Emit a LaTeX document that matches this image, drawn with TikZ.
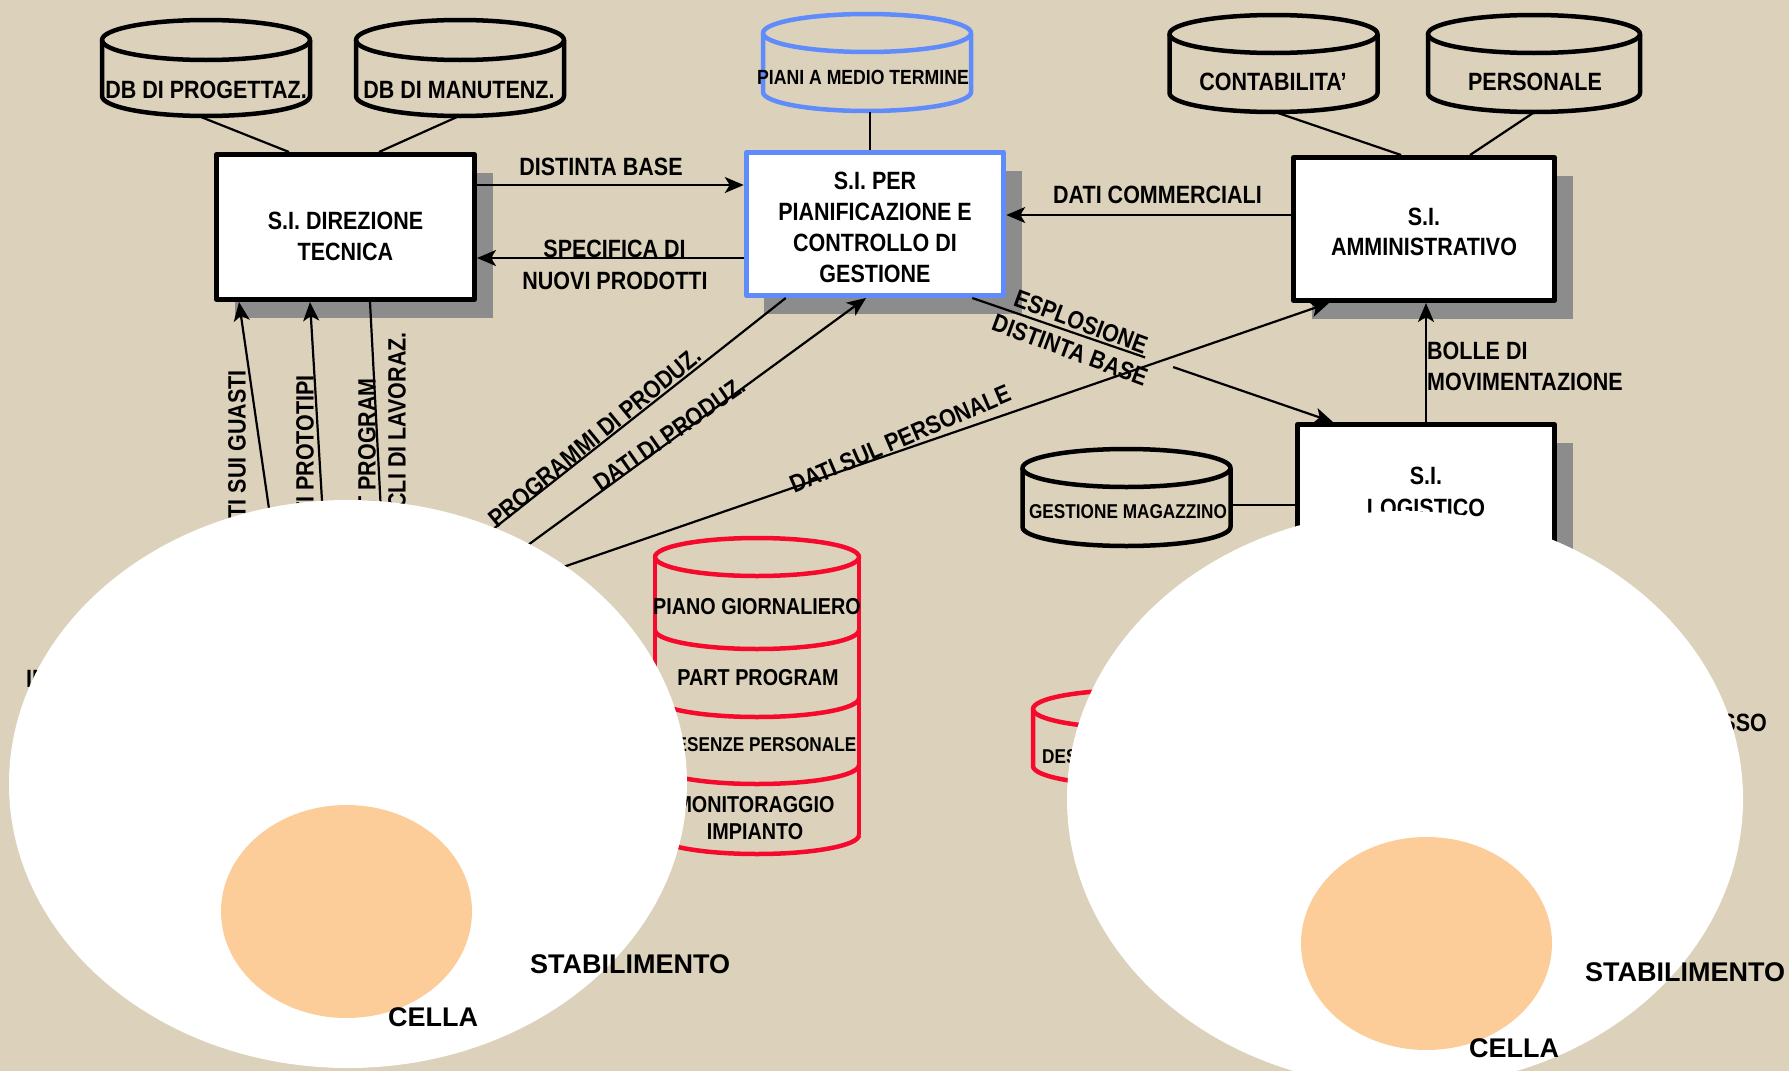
\documentclass[tikz,border=0pt]{standalone}
\usepackage{fontspec}
\setmainfont{Liberation Sans}[FakeStretch=0.86]
\newfontfamily\widesans{Liberation Sans}
\usetikzlibrary{arrows.meta,shadows,calc}
\definecolor{bgtan}{RGB}{220,210,187}
\definecolor{shadowgray}{RGB}{140,140,140}
\definecolor{sblue}{RGB}{95,140,250}
\definecolor{sred}{RGB}{245,10,45}
\definecolor{peach}{RGB}{252,204,153}
\newcommand{\myfs}[2]{\fontsize{#1}{#2}\selectfont\bfseries}
\newcommand{\dbcyl}[6]{%
  \draw[#6] (#1,#2) ellipse [x radius=#4pt, y radius=#5pt];
  \draw[#6] (#1-#4,#2) -- (#1-#4,#3) arc[start angle=180, end angle=360, x radius=#4pt, y radius=#5pt] -- (#1+#4,#2);
}
\tikzset{
  sibox/.style={draw=black, line width=5pt, fill=white, inner sep=0pt,
    drop shadow={shadow xshift=18pt, shadow yshift=-18pt, fill=shadowgray, opacity=1}},
  boxtxt/.style={font=\myfs{25}{31}, align=center, inner sep=0pt},
  lbl/.style={font=\myfs{25}{31}, inner sep=0pt, align=center},
  smalllbl/.style={font=\myfs{20.5}{24}, inner sep=0pt},
  widelbl/.style={font={\widesans\myfs{27}{31}}, inner sep=0pt},
  conn/.style={line width=2.2pt, draw=black},
  arr/.style={conn, -{Stealth[length=19pt, width=16pt, inset=5pt]}},
  blackcyl/.style={line width=4.5pt, draw=black},
  bluecyl/.style={line width=4.5pt, draw=sblue},
  redcyl/.style={line width=4.5pt, draw=sred},
}
\begin{document}
\begin{tikzpicture}[x=1pt, y=-1pt, line join=round]
\clip (0,0) rectangle (1789,1071);
\fill[bgtan] (0,0) rectangle (1789,1071);

% ---------- boxes ----------
\node[sibox, minimum width=258pt, minimum height=145pt] (dt) at (345.5,227) {};
\node[sibox, draw=sblue, minimum width=257.5pt, minimum height=143pt] (pc) at (875,224) {};
\node[sibox, minimum width=261pt, minimum height=143pt] (am) at (1424,229) {};
\node[sibox, minimum width=257pt, minimum height=145pt] (lg) at (1426,497) {};

\node[boxtxt] (dtT) at (345.5,236) {S.I. DIREZIONE\\TECNICA};
\node[boxtxt] (pcT) at (875,227) {S.I. PER\\PIANIFICAZIONE E\\CONTROLLO DI\\GESTIONE};
\node[boxtxt, font=\myfs{25}{30}] (amT) at (1424,232) {S.I.\\AMMINISTRATIVO};
\node[boxtxt, font=\myfs{25}{32}] (lgT) at (1426,492) {S.I.\\LOGISTICO};

% ---------- cylinders ----------
\dbcyl{206}{40}{96}{104}{20}{blackcyl}
\dbcyl{460}{40}{96}{104}{20}{blackcyl}
\dbcyl{867}{33}{92}{104}{19}{bluecyl}
\dbcyl{1273.5}{34}{93}{104}{19}{blackcyl}
\dbcyl{1534}{34}{93}{106}{19}{blackcyl}
\dbcyl{1126.5}{468}{527}{104}{19}{blackcyl}
\dbcyl{1135}{709}{766}{102}{19}{redcyl}

% red stack
\draw[redcyl] (757,557) ellipse [x radius=102pt, y radius=19pt];
\draw[redcyl] (655,557) -- (655,835);
\draw[redcyl] (859,557) -- (859,835);
\foreach \yy in {630,698,765,835}
  \draw[redcyl] (655,\yy) arc[start angle=180, end angle=360, x radius=102pt, y radius=19pt];

\node[lbl] (c1T) at (206,90) {DB DI PROGETTAZ.};
\node[lbl] (c2T) at (459,90) {DB DI MANUTENZ.};
\node[smalllbl] (c3T) at (863,77) {PIANI A MEDIO TERMINE};
\node[lbl] (c4T) at (1273,82) {CONTABILITA’};
\node[lbl] (c5T) at (1535,82) {PERSONALE};
\node[smalllbl, font=\myfs{20}{24}] (c6T) at (1128,512) {GESTIONE MAGAZZINO};
\node[lbl, font=\myfs{23}{27}] (r1T) at (757,607) {PIANO GIORNALIERO};
\node[lbl, font=\myfs{23}{27}] (r2T) at (758,678) {PART PROGRAM};
\node[lbl, font=\myfs{20}{24}] (r3T) at (754,745) {PRESENZE PERSONALE};
\node[lbl, font=\myfs{23}{27}] (r4T) at (755,818) {MONITORAGGIO\\IMPIANTO};
\node[smalllbl, font=\myfs{20}{24}, anchor=west] (r5T) at (1042,757) {DESCRIZIONE CICLI};

% ---------- cylinder links ----------
\coordinate (c1b) at (201,117);
\coordinate (c2b) at (457,117);
\coordinate (c3b) at (870,112);
\coordinate (c4b) at (1278,113);
\coordinate (c5b) at (1533,113);
\coordinate (c6r) at (1232,505);
\draw[conn] (c1b) -- ([xshift=75pt]dt.north west);
\draw[conn] (c2b) -- ([xshift=165pt]dt.north west);
\draw[conn] (c3b) -- (c3b |- pc.north);
\draw[conn] (c4b) -- ([xshift=110pt]am.north west);
\draw[conn] (c5b) -- ([xshift=179pt]am.north west);
\draw[conn] (c6r) -- (c6r -| lg.west);

% ---------- connectors ----------
\coordinate (db1) at ([yshift=42pt]dt.east);
\draw[arr] (db1) -- (db1 -| pc.west);
\coordinate (sp2) at ([yshift=-34pt]pc.west);
\draw[arr] (sp2) -- (sp2 -| dt.east);
\coordinate (dc3) at ([yshift=14pt]am.west);
\draw[arr] (dc3) -- (dc3 -| pc.east);
\draw[arr] (lg.north) -- (lg.north |- am.south);

\coordinate (esA) at ([xshift=-34pt]pc.south east);
\coordinate (esB) at ([xshift=38pt]lg.north west);
\draw[conn] (esA) -- ($(esA)!0.479!(esB)$);
\draw[arr] ($(esA)!0.557!(esB)$) -- (esB);

\coordinate (dspA) at (540,575);
\draw[arr] (dspA) -- ([xshift=38pt]am.south west);

\coordinate (prB) at (454,560);
\draw[conn] ([xshift=42pt]pc.south west) -- (prB);
\coordinate (ddA) at (491,572);
\draw[arr] (ddA) -- ([xshift=-9pt]pc.south);

\coordinate (guA) at (275,550);
\draw[arr] (guA) -- ([xshift=25pt]dt.south west);
\coordinate (ptA) at (325,550);
\draw[arr] (ptA) -- ([xshift=96pt]dt.south west);
\coordinate (ppB) at (383,550);
\draw[conn] ([xshift=156pt]dt.south west) -- (ppB);

% ---------- labels ----------
\node[lbl] (dbL) at (601,167) {DISTINTA BASE};
\node[lbl] (spL1) at (614.5,249) {SPECIFICA DI};
\node[lbl] (spL2) at (615,281) {NUOVI PRODOTTI};
\node[lbl] (dcL) at (1157.5,195) {DATI COMMERCIALI};
\node[lbl, anchor=west] (boL1) at (1427,351) {BOLLE DI};
\node[lbl, anchor=west] (boL2) at (1427,382) {MOVIMENTAZIONE};
\node[lbl, rotate=-20.3] (esL1) at (1081,322) {ESPLOSIONE};
\node[lbl, rotate=-20.3] (esL2) at (1070,350) {DISTINTA BASE};
\node[lbl, rotate=23.2] (dspL) at (900,439) {DATI SUL PERSONALE};
\node[lbl, rotate=39.4] (prL) at (594.5,437) {PROGRAMMI DI PRODUZ.};
\node[lbl, rotate=34.9] (ddL) at (669.5,434) {DATI DI PRODUZ.};
\node[lbl, rotate=90, anchor=east] (guL) at (237,370) {DATI SUI GUASTI};
\node[lbl, rotate=90, anchor=east] (ptL) at (305,375) {DATI PROTOTIPI};
\node[lbl, rotate=90, anchor=east] (ppL1) at (367,378) {PART PROGRAM};
\node[lbl, rotate=90, anchor=east] (ppL2) at (397,332) {CICLI DI LAVORAZ.};
\node[lbl, anchor=west] (inL) at (26,679) {INGRESSO};
\node[lbl, anchor=east] (ssoL) at (1767,723) {PROCESSO};

% ---------- overlays ----------
\fill[white] (348,784) ellipse [x radius=339pt, y radius=284pt];
\fill[white] (1405,799) ellipse [x radius=338pt, y radius=288pt];
\fill[peach] (346.5,911.5) ellipse [x radius=125.5pt, y radius=106.5pt];
\fill[peach] (1426.5,943.5) ellipse [x radius=125.5pt, y radius=106.5pt];

\node[widelbl] (st1) at (630,964) {STABILIMENTO};
\node[widelbl] (ce1) at (433,1017) {CELLA};
\node[widelbl] (st2) at (1685,972) {STABILIMENTO};
\node[widelbl] (ce2) at (1514,1048) {CELLA};
\end{tikzpicture}
\end{document}
